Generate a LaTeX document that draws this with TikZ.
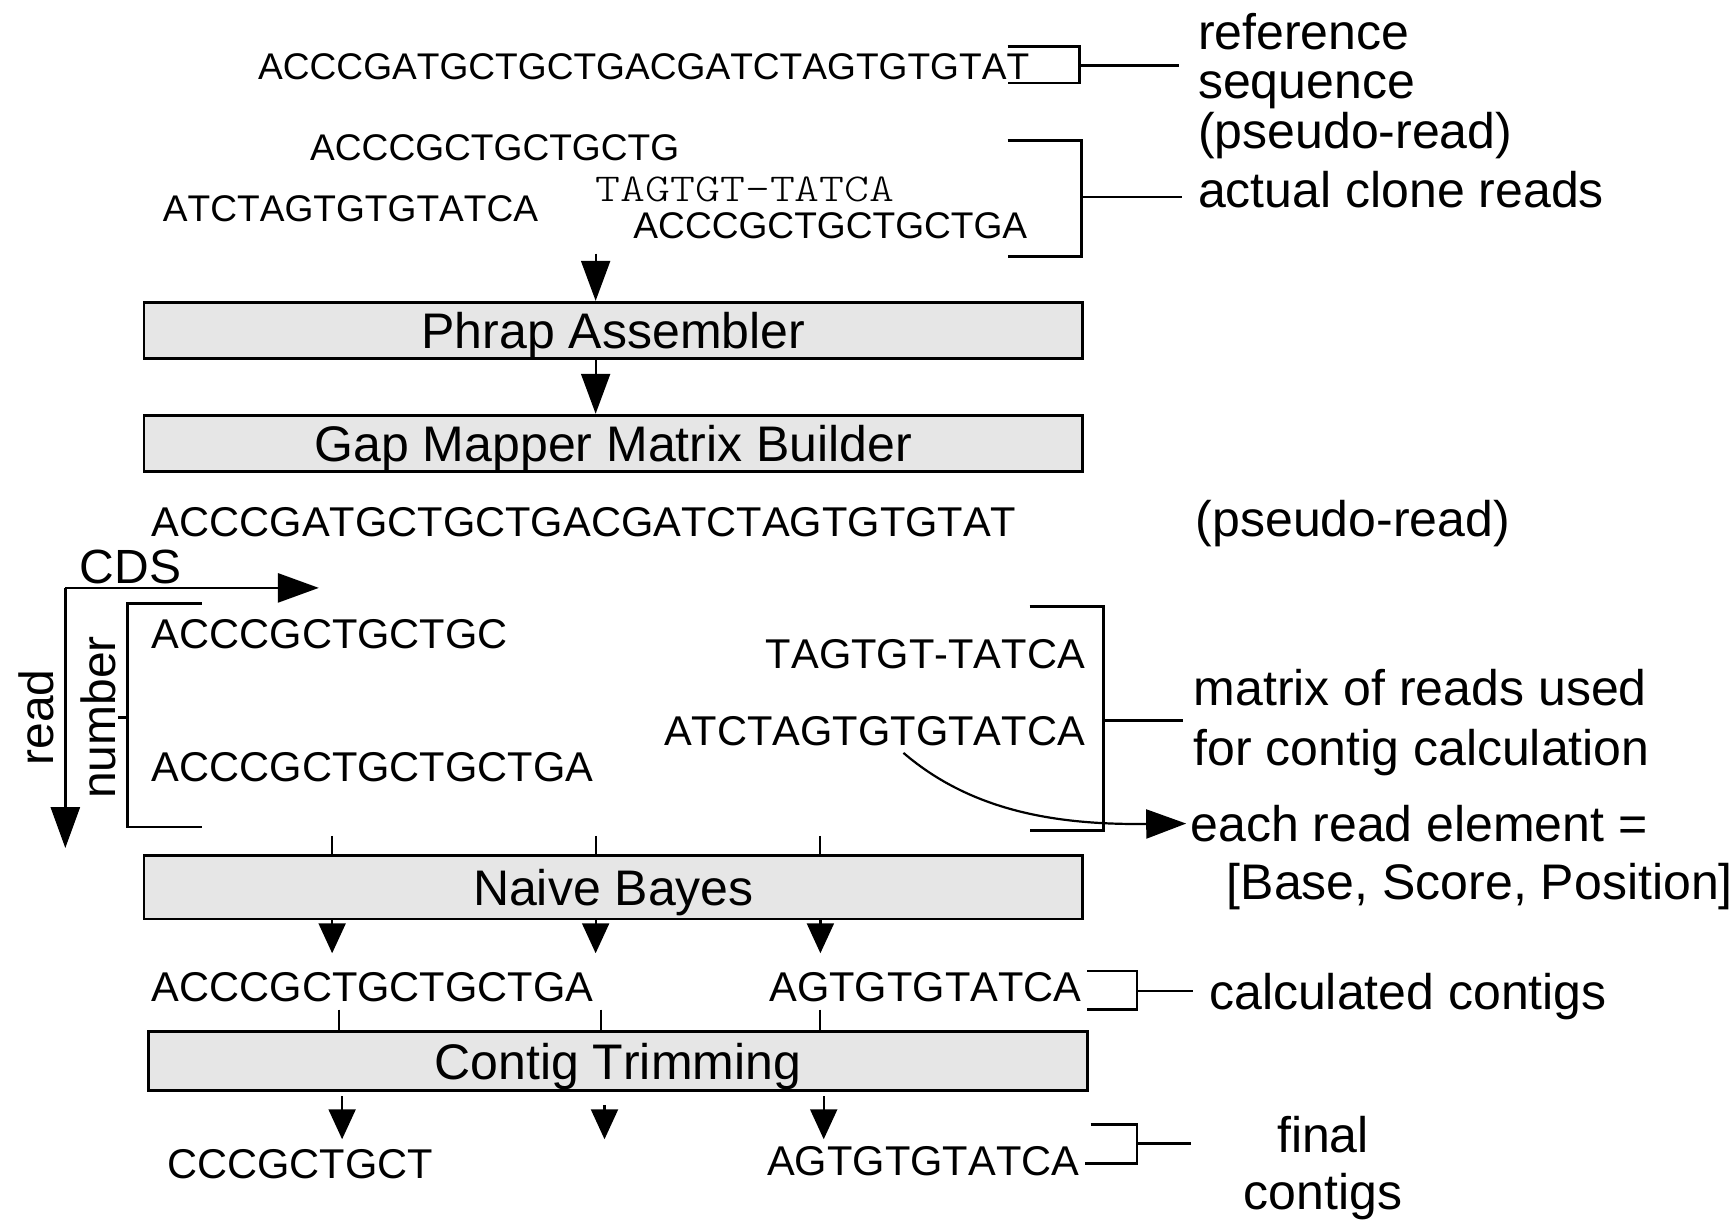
\documentclass[tikz,border=0pt]{standalone}
\usepackage{fontspec}
\setmainfont{Liberation Sans}[Kerning=Off]
\newfontfamily\gapmono{lmmonolt10-regular}[Extension=.otf, FakeStretch=1.2]
\usetikzlibrary{arrows.meta}

\definecolor{boxgray}{HTML}{E6E6E6}
\newcommand{\seqsmall}{\fontsize{37.1}{44}\selectfont}
\newcommand{\seqbig}{\fontsize{41.6}{50}\selectfont}
\newcommand{\lblfont}{\fontsize{50}{50}\selectfont}
\newcommand{\gapfont}{\gapmono\fontsize{39.5}{44}\selectfont}

\tikzset{
  stagebox/.style={draw, line width=2.8pt, fill=boxgray, minimum width=938.7pt, minimum height=56.5pt, inner sep=0pt, text depth=0pt, font=\lblfont},
  seq/.style={inner sep=0pt, anchor=base west, font=\seqbig},
  lbl/.style={inner sep=0pt, anchor=base west, font=\lblfont},
  brk/.style={line width=2.8pt},
  lead/.style={line width=2.6pt},
  tick/.style={line width=2pt},
  flow/.style={line width=2.2pt, -{Triangle[length=40pt, width=29pt]}},
  downflow/.style={line width=2.2pt, -{Triangle[length=30pt, width=27pt]}},
  axis/.style={line width=2.8pt, -{Triangle[length=41pt, width=29pt]}}
}

\begin{document}
\begin{tikzpicture}[x=1.107pt, y=-1.107pt]
  \useasboundingbox (0,0) rectangle (1568,1109);

  \node[seq, font=\seqsmall] (refseq) at (233,72) {ACCCGATGCTGCTGACGATCTAGTGTGTAT};
  \node[seq, font=\seqsmall] (read1) at (280,145) {ACCCGCTGCTGCTG};
  \node[seq, font=\seqsmall] (read2) at (147,200) {ATCTAGTGTGTATCA};
  \node[seq, font=\gapfont] (read3) at (538,182) {TAGTGT-TATCA};
  \node[seq, font=\seqsmall] (read4) at (572,215) {ACCCGCTGCTGCTGA};

  \node[lbl] (lref1) at (1082,45) {reference};
  \node[lbl] (lref2) at (1082,89) {sequence};
  \node[lbl] (lref3) at (1082,134) {(pseudo-read)};
  \node[lbl] (lclone) at (1082,187) {actual clone reads};

  \draw[brk] (910,42) -| (975,75) -- (910,75);
  \coordinate (b1) at (975,59);
  \draw[lead, shorten >=19pt] (b1) -- (b1 -| lref1.west);
  \draw[brk] (910,127) -| (977,232) -- (910,232);
  \coordinate (b2) at (977,178);
  \draw[lead, shorten >=16pt] (b2) -- (b2 -| lclone.west);

  \node[stagebox] (phrap) at (554,298.5) {Phrap Assembler};
  \node[stagebox] (gap) at (554,400.5) {Gap Mapper Matrix Builder};
  \coordinate (in) at (538,229);
  \draw[flow] (in) -- (in |- phrap.north);
  \draw[flow] (in |- phrap.south) -- (in |- gap.north);

  \node[seq] (pseudo) at (137,485) {ACCCGATGCTGCTGACGATCTAGTGTGTAT};
  \node[lbl] (lpseudo) at (1080,485) {(pseudo-read)};

  \coordinate (origin) at (59,531);
  \coordinate (cdsend) at (288,531);
  \coordinate (readend) at (59,766);
  \draw[axis] (origin) -- (cdsend);
  \draw[axis] (origin) -- (readend);
  \node[lbl, font=\fontsize{48}{48}\selectfont] (cds) at (72,527) {CDS};
  \node[inner sep=0pt, anchor=base, rotate=90, font=\fontsize{48}{48}\selectfont] (readlbl) at (48,648) {read};
  \node[inner sep=0pt, anchor=base, rotate=90, font=\fontsize{48}{48}\selectfont] (numlbl) at (104,648) {number};

  \draw[brk] (182,545) -| (115,747) -- (182,747);
  \draw[brk] (107,648) -- (115,648);

  \node[seq] (m1) at (137,586) {ACCCGCTGCTGC};
  \node[seq] (m2) at (137,706) {ACCCGCTGCTGCTGA};
  \node[seq, anchor=base east] (m3) at (980,604) {TAGTGT-TATCA};
  \node[seq, anchor=base east] (m4) at (980,673) {ATCTAGTGTGTATCA};

  \draw[brk] (930,548) -| (997,750) -- (930,750);
  \node[lbl] (lmat1) at (1078,637) {matrix of reads used};
  \node[lbl] (lmat2) at (1078,691) {for contig calculation};
  \node[lbl] (lelem1) at (1075,760) {each read element =};
  \node[lbl] (lelem2) at (1108,812) {[Base, Score, Position]};
  \coordinate (b3) at (997,651);
  \draw[lead, shorten >=11pt] (b3) -- (b3 -| lmat1.west);

  \coordinate (tpick) at (816,680);
  \draw[flow] (tpick) .. controls (880,735) and (960,745) .. ([xshift=-4pt]lelem1.west);

  \node[stagebox, minimum height=63.1pt] (naive) at (554,801.5) {Naive Bayes};
  \foreach \n/\x in {a/300,b/538,c/741} {
    \coordinate (nb\n) at (\x,755);
    \coordinate (nbtip\n) at (\x,861);
    \draw[tick] (nb\n) -- (nb\n |- naive.north);
    \draw[downflow] (nb\n |- naive.south) -- (nbtip\n);
  }

  \node[seq] (cc1) at (137,905) {ACCCGCTGCTGCTGA};
  \node[seq, anchor=base east] (cc2) at (977,905) {AGTGTGTATCA};
  \draw[brk] (982,877) -| (1027,912) -- (982,912);
  \node[lbl] (lcalc) at (1092,912) {calculated contigs};
  \coordinate (b4) at (1027,895);
  \draw[lead, shorten >=16pt] (b4) -- (b4 -| lcalc.west);

  \node[stagebox, minimum height=58.7pt] (trim) at (558,958.5) {Contig Trimming};
  \foreach \n/\x/\s in {a/306/990,b/543/998,c/741/990} {
    \coordinate (ct\n) at (\x,912);
    \coordinate (cts\n) at (\x+3,\s);
    \coordinate (cttip\n) at (\x+3,1029);
    \draw[tick] (ct\n) -- (ct\n |- trim.north);
    \draw[downflow] (cts\n) -- (cttip\n);
  }

  \node[seq] (fc1) at (151,1064) {CCCGCTGCT};
  \node[seq, anchor=base east] (fc2) at (975,1062) {AGTGTGTATCA};
  \draw[brk] (985,1016) -| (1027,1051) -- (980,1051);
  \node[lbl, anchor=base] (lfin1) at (1195,1041) {final};
  \node[lbl, anchor=base] (lfin2) at (1195,1092) {contigs};
  \coordinate (b5) at (1027,1033);
  \draw[lead, shorten >=53pt] (b5) -- (b5 -| lfin2.west);
\end{tikzpicture}
\end{document}
